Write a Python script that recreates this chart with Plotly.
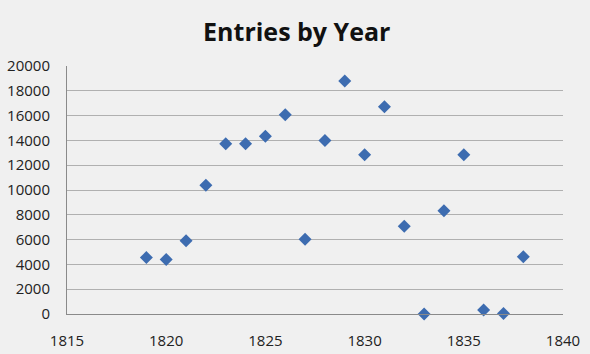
import plotly.graph_objects as go

years = [1819, 1820, 1821, 1822, 1823, 1824, 1825, 1826, 1827, 1828,
         1829, 1830, 1831, 1832, 1833, 1834, 1835, 1836, 1837, 1838]
entries = [4550, 4400, 5900, 10380, 13730, 13730, 14330, 16070, 6020, 14000,
           18800, 12850, 16720, 7070, 0, 8330, 12850, 320, 50, 4620]
x_ticks = [1815, 1820, 1825, 1830, 1835, 1840]
y_ticks = [0, 2000, 4000, 6000, 8000, 10000, 12000, 14000, 16000, 18000, 20000]

fig = go.Figure()
fig.add_trace(go.Scatter(
    x=years, y=entries, mode="markers",
    marker=dict(symbol="diamond", size=10, color="#3d6cb0",
                line=dict(width=0)),
    cliponaxis=False,
))

font_family = "Open Sans, Lato, sans-serif"
fig.update_layout(
    width=590, height=354,
    margin=dict(l=67, r=27, t=66, b=40),
    paper_bgcolor="#f0f0f0", plot_bgcolor="#f0f0f0",
    showlegend=False,
    title=dict(text="<b>Entries by Year</b>", x=0.503, xanchor="center",
               y=1 - 32 / 354, yanchor="middle", yref="container",
               font=dict(family=font_family, size=25, color="#111")),
    font=dict(family=font_family, size=15, color="#222"),
)
fig.update_xaxes(range=[1815, 1840], tickvals=x_ticks,
                 ticktext=[str(v) for v in x_ticks],
                 showgrid=False, zeroline=False, automargin=False,
                 showline=True, linecolor="#8a8a8a", linewidth=1,
                 ticks="", ticklabelstandoff=13)
fig.update_yaxes(range=[0, 20000], tickvals=y_ticks,
                 ticktext=[str(v) for v in y_ticks],
                 showgrid=True, gridcolor="#b0b0b0", gridwidth=1,
                 zeroline=False, automargin=False,
                 showline=True, linecolor="#8a8a8a", linewidth=1,
                 ticks="", ticklabelstandoff=13)

fig.write_html("out.html")
